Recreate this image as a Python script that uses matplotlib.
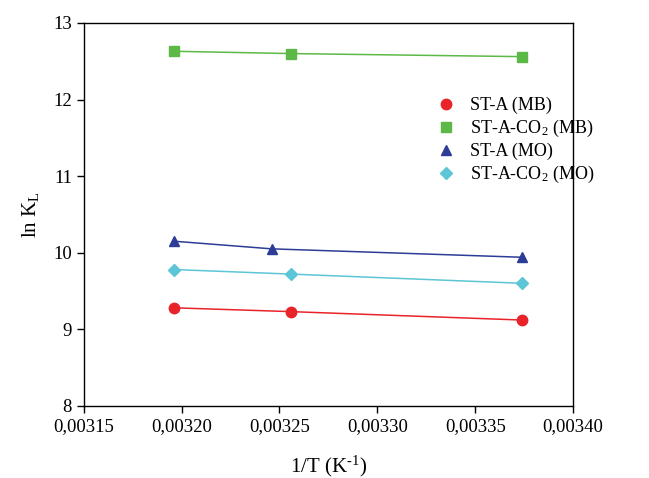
import matplotlib
matplotlib.use("Agg")
import matplotlib.pyplot as plt
from matplotlib.lines import Line2D

plt.rcParams["font.family"] = "Liberation Serif"
plt.rcParams["mathtext.fontset"] = "custom"
plt.rcParams["mathtext.rm"] = "Liberation Serif"
plt.rcParams["mathtext.it"] = "Liberation Serif:italic"

# 1/T values (K^-1) and ln K_L for each sample
inv_t = [0.003196, 0.003256, 0.003374]
inv_t_mo = [0.003196, 0.003246, 0.003374]
st_a_mb = [9.28, 9.23, 9.12]
st_a_co2_mb = [12.63, 12.60, 12.56]
st_a_mo = [10.15, 10.05, 9.94]
st_a_co2_mo = [9.78, 9.72, 9.60]

x_ticks = [0.00315, 0.00320, 0.00325, 0.00330, 0.00335, 0.00340]
x_tick_labels = ["0,00315", "0,00320", "0,00325", "0,00330", "0,00335", "0,00340"]
y_ticks = [8, 9, 10, 11, 12, 13]

series = [
    ("ST-A (MB)", inv_t, st_a_mb, "#e8242a", "o", 7.5),
    ("ST-A-CO$_2$ (MB)", inv_t, st_a_co2_mb, "#5cb947", "s", 6.5),
    ("ST-A (MO)", inv_t_mo, st_a_mo, "#2d3c96", "^", 7.5),
    ("ST-A-CO$_2$ (MO)", inv_t, st_a_co2_mo, "#5cc6d6", "D", 6.5),
]

fig = plt.figure(figsize=(6.49, 4.78), dpi=100)
ax = fig.add_axes([0.129, 0.151, 0.754, 0.801])

handles = []
for label, x, y, color, marker, size in series:
    ax.plot(x, y, color=color, linewidth=1.1, marker=marker, markersize=size,
            markeredgecolor=color)
    handles.append(Line2D([], [], color=color, marker=marker, linestyle="none",
                          markersize=size, label=label))

ax.set_xlim(0.00315, 0.00340)
ax.set_ylim(8, 13)
ax.set_xticks(x_ticks)
ax.set_xticklabels(x_tick_labels)
ax.set_yticks(y_ticks)
ax.tick_params(direction="out", length=5, labelsize=13.5, width=1)
for spine in ax.spines.values():
    spine.set_linewidth(1)

ax.set_xlabel("1/T (K$^{\\text{-}1}$)", fontsize=15, labelpad=14)
ax.set_ylabel("ln K$_\\mathrm{L}$", fontsize=15, labelpad=9)

ax.legend(handles=handles, loc="upper left", bbox_to_anchor=(0.68, 0.85),
          frameon=False, fontsize=13, handletextpad=0.55, labelspacing=0.22,
          handlelength=1.5)

plt.savefig("out.png", dpi=100)
plt.close()
